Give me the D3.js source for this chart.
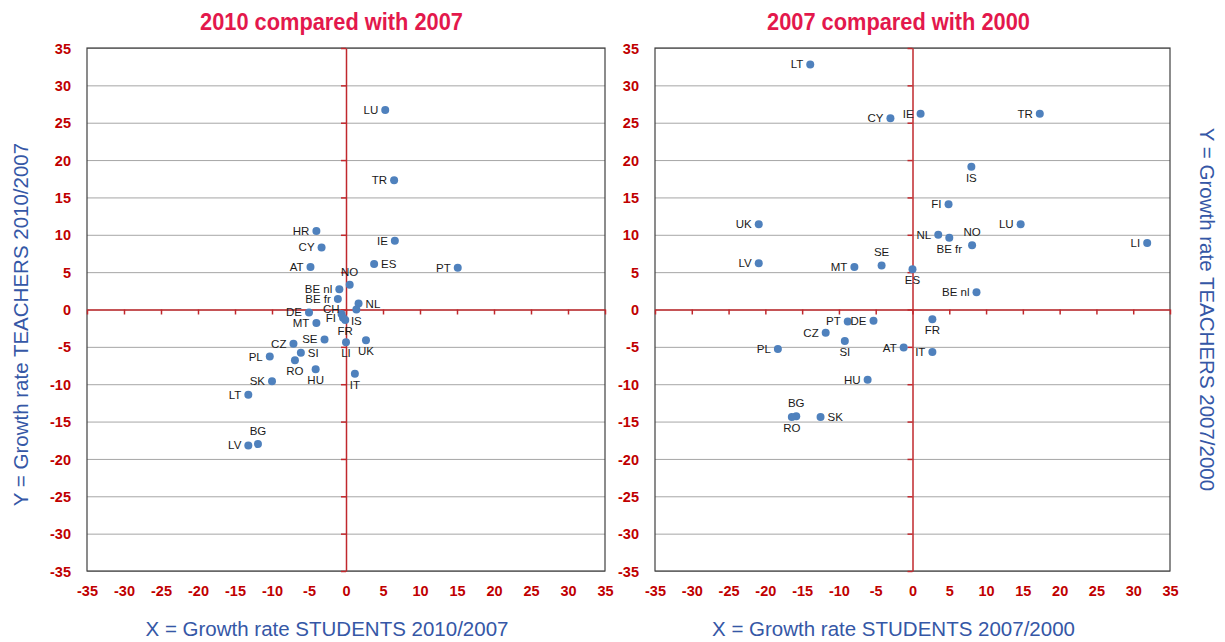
<!DOCTYPE html>
<html>
<head>
<meta charset="utf-8">
<script src="https://cdn.jsdelivr.net/npm/d3@7"></script>
<style>
  body { margin: 0; background: #fff; }
  text { font-family: "Liberation Sans", Arial, sans-serif; }
</style>
</head>
<body>
<svg id="chart"></svg>
<script>
// panel 1: 2010 vs 2007
const countries1 = ["LU","TR","IE","ES","PT","HR","CY","AT","NO","BE nl","BE fr","NL","IS","CH","FI","FR","DE","MT","SE","CZ","PL","SI","RO","HU","LI","UK","IT","SK","LT","LV","BG"];
const students1 = [5.3, 6.5, 6.6, 3.8, 15.1, -4.0, -3.3, -4.8, 0.5, -0.9, -1.1, 1.7, 1.4, -0.6, -0.4, -0.1, -5.0, -4.0, -2.9, -7.1, -10.3, -6.1, -6.9, -4.1, 0.0, 2.7, 1.2, -10.0, -13.2, -13.2, -11.9];
const teachers1 = [26.7, 17.3, 9.2, 6.1, 5.6, 10.5, 8.3, 5.7, 3.3, 2.7, 1.4, 0.8, 0.0, -0.6, -1.1, -1.4, -0.4, -1.8, -4.0, -4.6, -6.3, -5.8, -6.8, -8.0, -4.4, -4.1, -8.6, -9.6, -11.4, -18.2, -18.0];

// panel 2: 2007 vs 2000
const countries2 = ["LT","CY","IE","TR","IS","FI","LU","NL","BE fr","NO","SE","MT","ES","BE nl","LI","UK","LV","FR","PT","DE","CZ","SI","PL","AT","IT","HU","BG","RO","SK"];
const students2 = [-13.9, -3.0, 1.1, 17.3, 8.0, 4.9, 14.7, 3.5, 5.0, 8.1, -4.2, -7.9, 0.0, 8.7, 31.9, -20.9, -20.9, 2.7, -8.8, -5.3, -11.8, -9.2, -18.3, -1.2, 2.7, -6.1, -15.8, -16.4, -12.5];
const teachers2 = [32.8, 25.6, 26.2, 26.2, 19.1, 14.1, 11.4, 10.0, 9.6, 8.6, 5.9, 5.7, 5.4, 2.3, 8.9, 11.4, 6.2, -1.3, -1.6, -1.5, -3.1, -4.2, -5.3, -5.1, -5.7, -9.4, -14.3, -14.4, -14.4];

const ticks = [-35,-30,-25,-20,-15,-10,-5,0,5,10,15,20,25,30,35];

// label placement (l = left, r = right, a = above, b = below, ul = upper left)
const place1 = {ES:"r", NO:"a", NL:"r", IS:"b", CH:"ul", FR:"b", SI:"r", RO:"b", HU:"b", LI:"b", UK:"b", IT:"b", BG:"a"};
const place2 = {IS:"b", "BE fr":"b", NO:"a", SE:"a", ES:"b", FR:"b", SI:"b", BG:"a", RO:"b", SK:"r"};

const width = 1225, height = 642;
const plotTop = 48, plotBottom = 571;
const blue = "#3557a6";

const svg = d3.select("#chart").attr("width", width).attr("height", height);

function panel(left, right, countries, xs, ys, place, title, titleX, xLabel) {
  const x = d3.scaleLinear().domain([-35, 35]).range([left, right]);
  const y = d3.scaleLinear().domain([-35, 35]).range([plotBottom, plotTop]);
  const g = svg.append("g");

  // gridlines
  g.append("g")
    .attr("transform", `translate(${left},0)`)
    .call(d3.axisLeft(y).tickValues(ticks).tickSize(-(right - left)).tickFormat(""))
    .call(s => s.select(".domain").remove())
    .call(s => s.selectAll("line").attr("stroke", "#a6a6a6"));

  // frame
  g.append("rect")
    .attr("x", left).attr("y", plotTop)
    .attr("width", right - left).attr("height", plotBottom - plotTop)
    .attr("fill", "none").attr("stroke", "#404040").attr("stroke-width", 1.2);

  // zero axes
  g.append("g")
    .attr("transform", `translate(0,${y(0)})`)
    .call(d3.axisBottom(x).tickValues(ticks).tickSize(5).tickSizeOuter(0).tickFormat(""))
    .call(s => s.selectAll("line, path").attr("stroke", "#c0282d").attr("stroke-width", 1.5));
  g.append("g")
    .attr("transform", `translate(${x(0)},0)`)
    .call(d3.axisLeft(y).tickValues(ticks).tickSize(5).tickSizeOuter(0).tickFormat(""))
    .call(s => s.selectAll("line, path").attr("stroke", "#c0282d").attr("stroke-width", 1.5));

  // tick labels
  g.append("g")
    .attr("transform", `translate(${left - 13},0)`)
    .call(d3.axisLeft(y).tickValues(ticks).tickSize(0).tickFormat(d => String(d)))
    .call(s => s.select(".domain").remove())
    .call(s => s.selectAll("text").attr("fill", "#c00000").attr("font-size", 14.5).attr("font-weight", "bold").attr("dy", "0.35em"));
  g.append("g")
    .attr("transform", `translate(0,${plotBottom + 12})`)
    .call(d3.axisBottom(x).tickValues(ticks).tickSize(0).tickFormat(d => String(d)))
    .call(s => s.select(".domain").remove())
    .call(s => s.selectAll("text").attr("fill", "#c00000").attr("font-size", 14.5).attr("font-weight", "bold"));

  // points
  const pts = countries.map((c, i) => ({c, x: xs[i], y: ys[i], p: place[c] || "l"}));
  g.selectAll("circle").data(pts).enter().append("circle")
    .attr("cx", d => x(d.x)).attr("cy", d => y(d.y))
    .attr("r", 4).attr("fill", "#4f81bd");

  const dx = {l: -7, r: 7, a: 0, b: 0, ul: -2};
  const dy = {l: 4, r: 4, a: -9, b: 15, ul: -1};
  const anchor = {l: "end", r: "start", a: "middle", b: "middle", ul: "end"};
  g.selectAll(".lbl").data(pts).enter().append("text")
    .attr("class", "lbl")
    .attr("x", d => x(d.x) + dx[d.p])
    .attr("y", d => y(d.y) + dy[d.p])
    .attr("text-anchor", d => anchor[d.p])
    .attr("font-size", 11.5).attr("fill", "#1a1a1a")
    .text(d => d.c);

  // title
  g.append("text")
    .attr("x", titleX).attr("y", 30)
    .attr("textLength", 263).attr("lengthAdjust", "spacingAndGlyphs")
    .attr("font-weight", "bold").attr("font-size", 23)
    .attr("fill", "#e3184c")
    .text(title);

  // x label
  g.append("text")
    .attr("x", (left + right) / 2 - 19).attr("y", 636)
    .attr("text-anchor", "middle")
    .attr("font-size", 20.5).attr("fill", blue)
    .text(xLabel);
}

panel(87, 605, countries1, students1, teachers1, place1, "2010 compared with 2007", 200, "X = Growth rate STUDENTS 2010/2007");
panel(655, 1170, countries2, students2, teachers2, place2, "2007 compared with 2000", 767, "X = Growth rate STUDENTS 2007/2000");

svg.append("text")
  .attr("transform", `translate(28,${(plotTop + plotBottom) / 2 + 15}) rotate(-90)`)
  .attr("text-anchor", "middle")
  .attr("font-size", 20.5).attr("fill", blue)
  .text("Y = Growth rate TEACHERS 2010/2007");

svg.append("text")
  .attr("transform", `translate(1200,${(plotTop + plotBottom) / 2}) rotate(90)`)
  .attr("text-anchor", "middle")
  .attr("font-size", 20.5).attr("fill", blue)
  .text("Y = Growth rate TEACHERS 2007/2000");
</script>
</body>
</html>
